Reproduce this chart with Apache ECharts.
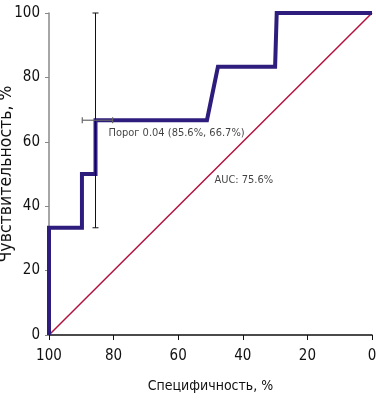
<!DOCTYPE html>
<html>
<head>
<meta charset="utf-8">
<script src="https://cdn.jsdelivr.net/npm/echarts@6/dist/echarts.min.js"></script>
<style>
  html, body { margin: 0; padding: 0; background: #fff; }
  #chart { width: 376px; height: 400px; }
</style>
</head>
<body>
<div id="chart"></div>
<script>
// ROC curve: specificity (x, reversed) vs sensitivity (y)
var rocSpec = [100, 100, 89.8, 89.8, 85.6, 85.6, 51.1, 47.7, 30, 29.5, 0];
var rocSens = [0, 33.3, 33.3, 50, 50, 66.7, 66.7, 83.3, 83.3, 100, 100];
var diagSpec = [100, 0];
var diagSens = [0, 100];
// threshold point with error bars
var cutPoint = [85.6, 66.7];
var sensRange = [33.3, 100];
var specRange = [89.7, 80.3];
var labels = [
    { text: 'Порог 0.04 (85.6%, 66.7%)', pos: [81.6, 62.6] },
    { text: 'AUC: 75.6%', pos: [48.8, 48.1] }
];

var font = '"Liberation Sans Narrow", "DejaVu Sans Condensed", "Liberation Sans", Arial, sans-serif';
var myChart = echarts.init(document.getElementById('chart'));

var option = {
    animation: false,
    grid: { left: 49, right: 4, top: 13, bottom: 65, outerBoundsMode: 'none', containLabel: false },
    xAxis: {
        type: 'value', inverse: true, min: 0, max: 100, interval: 20,
        name: 'Специфичность, %', nameLocation: 'middle', nameGap: 44, nameMoveOverlap: false,
        nameTextStyle: { fontFamily: font, fontSize: 14, color: '#111' },
        axisLine: { lineStyle: { color: '#111', width: 1.5 } },
        axisTick: { length: 5, lineStyle: { color: '#111' } },
        axisLabel: { fontFamily: font, fontSize: 15, color: '#111', margin: 14 },
        splitLine: { show: false }
    },
    yAxis: {
        type: 'value', min: 0, max: 100, interval: 20,
        name: 'Чувствительность, %', nameLocation: 'middle', nameGap: 34, nameMoveOverlap: false,
        nameTextStyle: { fontFamily: font, fontSize: 17.5, color: '#111' },
        axisLine: { show: true, onZero: false, lineStyle: { color: '#888', width: 1.5 } },
        axisTick: { show: true, length: 4, lineStyle: { color: '#888' } },
        axisLabel: { fontFamily: font, fontSize: 15, color: '#111', margin: 9 },
        splitLine: { show: false }
    },
    series: [
        {
            type: 'line', symbol: 'none', z: 3,
            data: diagSpec.map(function (v, i) { return [v, diagSens[i]]; }),
            lineStyle: { color: '#b3123e', width: 1.5 }
        },
        {
            type: 'line', symbol: 'none', z: 4,
            data: rocSpec.map(function (v, i) { return [v, rocSens[i]]; }),
            lineStyle: { color: '#2f1d7e', width: 4, join: 'miter' }
        },
        {
            type: 'custom', z: 5,
            data: [cutPoint],
            renderItem: function (params, api) {
                var top = api.coord([cutPoint[0], sensRange[1]]);
                var bot = api.coord([cutPoint[0], sensRange[0]]);
                var l = api.coord([specRange[0], cutPoint[1]]);
                var r = api.coord([specRange[1], cutPoint[1]]);
                var st = { stroke: '#111', lineWidth: 1 };
                var sh = { stroke: '#666', lineWidth: 1.2 };
                var c = 3;
                return {
                    type: 'group',
                    children: [
                        { type: 'line', shape: { x1: top[0], y1: top[1], x2: bot[0], y2: bot[1] }, style: st },
                        { type: 'line', shape: { x1: top[0] - c, y1: top[1], x2: top[0] + c, y2: top[1] }, style: st },
                        { type: 'line', shape: { x1: bot[0] - c, y1: bot[1], x2: bot[0] + c, y2: bot[1] }, style: st },
                        { type: 'line', shape: { x1: l[0], y1: l[1], x2: r[0], y2: r[1] }, style: sh },
                        { type: 'line', shape: { x1: l[0], y1: l[1] - c, x2: l[0], y2: l[1] + c }, style: sh },
                        { type: 'line', shape: { x1: r[0], y1: r[1] - c, x2: r[0], y2: r[1] + c }, style: sh }
                    ]
                };
            }
        },
        {
            type: 'scatter', symbolSize: 0, z: 6,
            data: labels.map(function (d) {
                return { value: d.pos, label: { formatter: d.text } };
            }),
            label: {
                show: true, position: 'right', distance: 0,
                fontFamily: font, fontSize: 11, color: '#111'
            }
        }
    ]
};
myChart.setOption(option);
</script>
</body>
</html>
